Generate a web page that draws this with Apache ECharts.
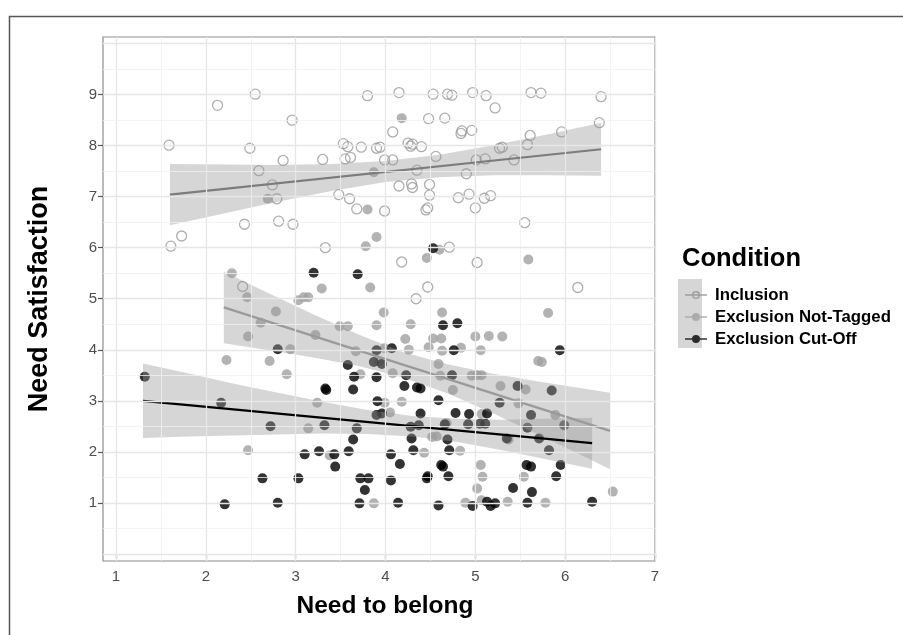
<!DOCTYPE html>
<html>
<head>
<meta charset="utf-8">
<script src="https://cdn.jsdelivr.net/npm/echarts@6/dist/echarts.min.js"></script>
<style>
html,body{margin:0;padding:0;background:#fff;}
#chart{width:903px;height:635px;}
</style>
</head>
<body>
<div id="chart"></div>
<script>
// ---------- data ----------
const legendNames = ['Inclusion', 'Exclusion Not-Tagged', 'Exclusion Cut-Off'];
const xTickLabels = [1, 2, 3, 4, 5, 6, 7];
const yTickLabels = [1, 2, 3, 4, 5, 6, 7, 8, 9];

const inclusionPoints = [
[1.59,8.01],[1.61,6.03],[1.73,6.23],[2.13,8.79],[2.41,5.24],[2.43,6.46],[2.49,7.95],[2.55,9.01],[2.59,7.51],[2.74,7.23],
[2.79,6.96],[2.81,6.52],[2.86,7.71],[2.96,8.50],[2.97,6.46],[3.30,7.73],[3.33,6.00],[3.48,7.04],[3.53,8.04],[3.55,7.74],
[3.58,7.98],[3.60,6.96],[3.61,7.77],[3.68,6.76],[3.73,7.97],[3.80,8.98],[3.90,7.95],[3.94,7.97],[3.99,6.72],[3.99,7.72],
[4.08,7.72],[4.08,8.27],[4.15,9.04],[4.15,7.21],[4.18,5.72],[4.25,8.05],[4.28,7.99],[4.29,7.25],[4.30,7.18],[4.30,8.03],
[4.35,7.52],[4.34,5.00],[4.40,7.98],[4.45,6.74],[4.47,6.78],[4.48,8.53],[4.47,5.23],[4.49,7.24],[4.49,7.03],[4.53,9.01],
[4.56,7.79],[4.66,8.54],[4.69,9.01],[4.71,6.01],[4.74,8.99],[4.81,6.98],[4.84,8.24],[4.85,8.29],[4.90,7.45],[4.93,7.05],
[4.96,8.30],[4.97,9.04],[5.01,7.72],[5.00,6.78],[5.02,5.71],[5.11,7.74],[5.10,6.97],[5.12,8.98],[5.17,7.02],[5.22,8.74],
[5.27,7.95],[5.30,7.97],[5.43,7.72],[5.55,6.49],[5.58,8.02],[5.61,8.20],[5.62,9.04],[5.73,9.03],[5.96,8.27],[6.14,5.22],
[6.38,8.45],[6.40,8.96]
];

const notTaggedPoints = [
[2.23,3.80],[2.29,5.50],[2.46,5.03],[2.47,4.26],[2.47,2.03],[2.61,4.53],[2.69,6.96],[2.71,3.78],[2.78,4.75],[2.90,3.52],
[2.94,4.01],[3.03,4.97],[3.09,5.03],[3.14,5.03],[3.14,2.46],[3.22,4.29],[3.24,2.96],[3.29,5.20],[3.38,1.93],[3.49,4.46],
[3.58,4.46],[3.67,3.97],[3.72,3.52],[3.78,6.03],[3.80,6.75],[3.83,5.22],[3.87,7.48],[3.87,0.99],[3.90,6.21],[3.90,4.48],
[3.93,3.77],[3.98,4.73],[3.99,4.03],[3.99,2.96],[4.05,2.77],[4.08,3.54],[4.18,8.54],[4.18,2.98],[4.22,4.21],[4.26,4.00],
[4.28,4.50],[4.43,1.98],[4.46,5.80],[4.48,4.05],[4.52,2.29],[4.53,4.22],[4.57,2.30],[4.59,3.72],[4.60,5.96],[4.61,3.49],
[4.62,4.22],[4.63,4.73],[4.63,3.98],[4.68,2.56],[4.75,3.21],[4.83,2.02],[4.84,4.04],[4.89,1.00],[4.96,3.49],[5.00,4.26],
[5.02,3.50],[5.02,1.28],[5.06,3.99],[5.07,3.50],[5.07,2.74],[5.06,1.74],[5.08,1.51],[5.07,1.05],[5.15,4.27],[5.28,3.29],
[5.30,4.26],[5.36,1.02],[5.37,2.24],[5.48,2.95],[5.54,1.51],[5.56,3.22],[5.59,5.77],[5.70,3.78],[5.74,3.76],[5.78,1.00],
[5.81,4.72],[5.89,2.72],[6.53,1.22]
];

const cutOffPoints = [
[1.32,3.47],[2.17,2.96],[2.21,0.97],[2.63,1.48],[2.72,2.50],[2.80,1.00],[2.80,4.01],[3.03,1.48],[3.10,1.95],[3.20,5.51],
[3.26,2.01],[3.32,2.52],[3.33,3.24],[3.34,3.21],[3.43,1.95],[3.44,1.71],[3.58,3.70],[3.59,2.01],[3.65,3.47],[3.64,3.22],
[3.64,2.24],[3.68,2.46],[3.69,5.48],[3.71,0.99],[3.72,1.48],[3.77,1.25],[3.81,1.48],[3.87,3.76],[3.90,3.46],[3.90,3.99],
[3.90,2.72],[3.91,2.99],[3.96,3.72],[3.96,2.75],[4.06,1.95],[4.06,1.44],[4.07,4.03],[4.14,1.00],[4.16,1.76],[4.21,3.29],
[4.23,3.50],[4.28,2.49],[4.29,2.26],[4.31,2.03],[4.35,3.26],[4.39,3.24],[4.37,2.52],[4.39,2.75],[4.46,1.48],[4.47,1.52],
[4.53,5.99],[4.59,3.01],[4.59,0.95],[4.62,1.74],[4.64,1.71],[4.64,4.48],[4.66,2.54],[4.69,2.24],[4.70,1.52],[4.71,2.03],
[4.74,3.50],[4.76,3.99],[4.78,2.76],[4.80,4.52],[4.92,2.54],[4.93,2.74],[4.97,0.94],[5.05,2.55],[5.11,2.55],[5.13,2.75],
[5.13,1.02],[5.17,0.94],[5.22,0.99],[5.27,2.96],[5.35,2.26],[5.42,1.29],[5.47,3.29],[5.58,2.47],[5.58,1.00],[5.57,1.74],
[5.62,1.71],[5.62,2.72],[5.63,1.21],[5.71,2.26],[5.82,2.03],[5.85,3.20],[5.90,1.52],[5.94,3.99],[5.95,1.74],[5.99,2.52],
[6.30,1.02]
];

// fitted lines (end points)
const inclusionLine = [[1.60,7.04],[6.40,7.93]];
const notTaggedLine = [[2.20,4.83],[6.50,2.41]];
const cutOffLine = [[1.30,3.00],[6.30,2.17]];

// confidence ribbons (edges)
const inclusionBandX     = [1.6, 2.2, 2.8, 3.4, 4.0, 4.6, 5.2, 5.8, 6.4];
const inclusionBandUpper = [7.64, 7.63, 7.62, 7.64, 7.70, 7.82, 8.01, 8.22, 8.45];
const inclusionBandLower = [6.44, 6.67, 6.90, 7.11, 7.29, 7.38, 7.42, 7.42, 7.41];

const notTaggedBandX     = [2.2, 2.7, 3.2, 3.7, 4.2, 4.7, 5.2, 5.7, 6.2, 6.5];
const notTaggedBandUpper = [5.53, 5.11, 4.69, 4.30, 3.95, 3.71, 3.53, 3.38, 3.24, 3.16];
const notTaggedBandLower = [4.13, 3.99, 3.85, 3.68, 3.45, 3.14, 2.75, 2.34, 1.92, 1.66];

const cutOffBandX     = [1.3, 1.8, 2.3, 2.8, 3.3, 3.8, 4.3, 4.8, 5.3, 5.8, 6.3];
const cutOffBandUpper = [3.73, 3.54, 3.34, 3.16, 2.98, 2.82, 2.70, 2.65, 2.63, 2.65, 2.67];
const cutOffBandLower = [2.27, 2.30, 2.32, 2.34, 2.36, 2.35, 2.30, 2.19, 2.03, 1.85, 1.67];

// gridline positions
const xMajorGrid = [1, 2, 3, 4, 5, 6, 7];
const xMinorGrid = [1.5, 2.5, 3.5, 4.5, 5.5, 6.5];
const yMajorGrid = [0, 1, 2, 3, 4, 5, 6, 7, 8, 9, 10];
const yMinorGrid = [0.5, 1.5, 2.5, 3.5, 4.5, 5.5, 6.5, 7.5, 8.5, 9.5];

// ---------- chart ----------
const FONT = '"Liberation Sans", Arial, Helvetica, sans-serif';
const INC_COLOR = '#8f8f8f';
const NT_COLOR = '#a0a0a0';
const CO_COLOR = '#000000';
const BAND_FILL = 'rgba(153,153,153,0.4)';

function bandSeries(xs, up, lo) {
  return {
    type: 'custom',
    silent: true,
    clip: true,
    z: 3,
    data: [[xs[0], up[0]]],
    encode: { x: 0, y: 1 },
    renderItem: function (params, api) {
      const pts = [];
      for (let i = 0; i < xs.length; i++) pts.push(api.coord([xs[i], up[i]]));
      for (let i = xs.length - 1; i >= 0; i--) pts.push(api.coord([xs[i], lo[i]]));
      return { type: 'polygon', shape: { points: pts, smooth: 0 }, style: { fill: BAND_FILL } };
    },
    animation: false
  };
}

function lineSeries(name, pts, color, w) {
  return {
    name: name + ' fit', type: 'line', data: pts, showSymbol: false, z: 3,
    lineStyle: { color: color, width: w }, silent: true, animation: false
  };
}

const gridLines = [];
xMajorGrid.forEach(v => gridLines.push({ xAxis: v, lineStyle: { color: '#e6e6e6', width: 1.3, type: 'solid' } }));
xMinorGrid.forEach(v => gridLines.push({ xAxis: v, lineStyle: { color: '#f0f0f0', width: 0.8, type: 'solid' } }));
yMajorGrid.forEach(v => gridLines.push({ yAxis: v, lineStyle: { color: '#e6e6e6', width: 1.3, type: 'solid' } }));
yMinorGrid.forEach(v => gridLines.push({ yAxis: v, lineStyle: { color: '#f0f0f0', width: 0.8, type: 'solid' } }));

const ringIcon = 'path://M0,4.2H22V5.8H0Z M15,5A4,4 0 1,1 7,5A4,4 0 1,1 15,5Z M13.6,5A2.6,2.6 0 1,0 8.4,5A2.6,2.6 0 1,0 13.6,5Z';
const dotIcon = 'path://M0,4.2H22V5.8H0Z M15,5A4,4 0 1,1 7,5A4,4 0 1,1 15,5Z';

const chart = echarts.init(document.getElementById('chart'), null, { renderer: 'canvas' });
chart.setOption({
  animation: false,
  backgroundColor: '#ffffff',
  textStyle: { fontFamily: FONT },
  title: {
    text: 'Condition', left: 677, top: 241,
    textStyle: { fontFamily: FONT, fontSize: 25.5, fontWeight: 'bold', color: '#000' }
  },
  legend: {
    orient: 'vertical', left: 680, top: 281,
    itemWidth: 22, itemHeight: 8, itemGap: 4,
    selectedMode: false,
    textStyle: { fontFamily: FONT, fontSize: 16.8, fontWeight: 'bold', color: '#000', lineHeight: 18, padding: [0, 0, 0, 3] },
    data: [
      { name: legendNames[0], icon: ringIcon, itemStyle: { color: INC_COLOR, borderWidth: 0 } },
      { name: legendNames[1], icon: dotIcon, itemStyle: { color: NT_COLOR, borderWidth: 0 } },
      { name: legendNames[2], icon: dotIcon, itemStyle: { color: CO_COLOR, borderWidth: 0 } }
    ]
  },
  graphic: [
    { type: 'rect', left: 7, top: 14, z: -10, silent: true,
      shape: { x: 0, y: 0, width: 1000, height: 1000 },
      style: { fill: 'none', stroke: '#555', lineWidth: 1.5 } },
    { type: 'rect', left: 678, top: 279, z: -5, silent: true,
      shape: { x: 0, y: 0, width: 24, height: 69 },
      style: { fill: '#d6d6d6' } }
  ],
  grid: {
    left: 103, right: 248, top: 37, bottom: 74,
    show: true, borderColor: '#8c8c8c', borderWidth: 1.2, backgroundColor: 'transparent'
  },
  xAxis: {
    type: 'value', min: 0.855, max: 7.0,
    name: 'Need to belong', nameLocation: 'middle', nameGap: 33,
    nameTextStyle: { fontFamily: FONT, fontSize: 24.5, fontWeight: 'bold', color: '#000', padding: [0, 0, 0, 12] },
    axisLine: { show: false },
    axisTick: { show: true, length: 5, customValues: xTickLabels, lineStyle: { color: '#555', width: 1.2 } },
    axisLabel: { customValues: xTickLabels, margin: 8, fontFamily: FONT, fontSize: 15, color: '#4d4d4d' },
    splitLine: { show: false }
  },
  yAxis: {
    type: 'value', min: -0.14, max: 10.13,
    name: 'Need Satisfaction', nameLocation: 'middle', nameGap: 50, nameRotate: 90,
    nameTextStyle: { fontFamily: FONT, fontSize: 27, fontWeight: 'bold', color: '#000' },
    axisLine: { show: false },
    axisTick: { show: true, length: 5, customValues: yTickLabels, lineStyle: { color: '#555', width: 1.2 } },
    axisLabel: { customValues: yTickLabels, margin: 6, fontFamily: FONT, fontSize: 15, color: '#4d4d4d' },
    splitLine: { show: false }
  },
  series: [
    {
      name: 'grid', type: 'line', data: [], z: 1, silent: true,
      markLine: { silent: true, symbol: ['none', 'none'], label: { show: false }, animation: false, data: gridLines }
    },
    {
      name: legendNames[0], type: 'scatter', data: inclusionPoints, symbol: 'circle', symbolSize: 10, z: 2,
      itemStyle: { color: 'rgba(0,0,0,0)', borderColor: '#9a9a9a', borderWidth: 1.3 }
    },
    {
      name: legendNames[1], type: 'scatter', data: notTaggedPoints, symbol: 'circle', symbolSize: 10, z: 2,
      itemStyle: { color: NT_COLOR }
    },
    {
      name: legendNames[2], type: 'scatter', data: cutOffPoints, symbol: 'circle', symbolSize: 10, z: 2,
      itemStyle: { color: CO_COLOR }
    },
    bandSeries(inclusionBandX, inclusionBandUpper, inclusionBandLower),
    lineSeries(legendNames[0], inclusionLine, '#7c7c7c', 2.2),
    bandSeries(notTaggedBandX, notTaggedBandUpper, notTaggedBandLower),
    lineSeries(legendNames[1], notTaggedLine, '#9a9a9a', 2.2),
    bandSeries(cutOffBandX, cutOffBandUpper, cutOffBandLower),
    lineSeries(legendNames[2], cutOffLine, '#000000', 2.2)
  ]
});
</script>
</body>
</html>
